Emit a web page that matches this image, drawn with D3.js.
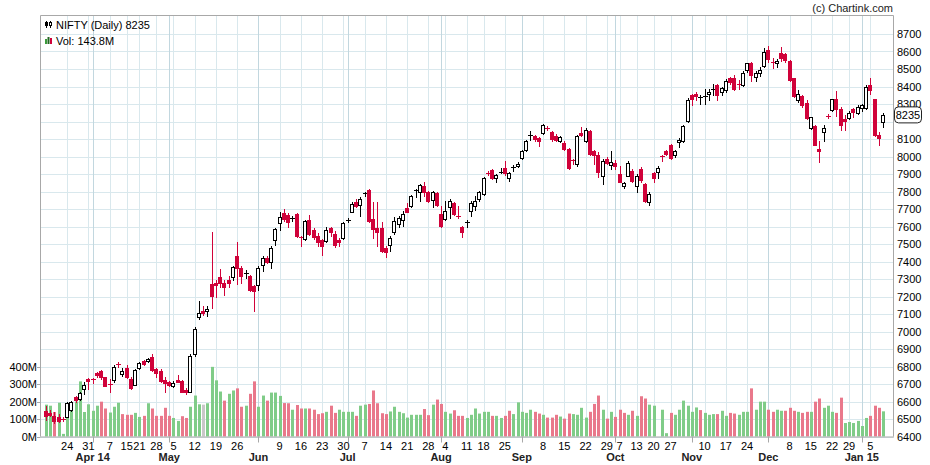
<!DOCTYPE html>
<html><head><meta charset="utf-8">
<script src="https://cdn.jsdelivr.net/npm/d3@7"></script>
<style>body{margin:0;background:#fff}svg text{font-family:"Liberation Sans",Arial,sans-serif}</style>
</head><body><svg id="c" width="930" height="465"></svg>
<script>
const dates=["2014-03-14","2014-03-18","2014-03-19","2014-03-20","2014-03-21",
"2014-03-24","2014-03-25","2014-03-26","2014-03-27","2014-03-28",
"2014-03-31","2014-04-01","2014-04-02","2014-04-03","2014-04-04",
"2014-04-07","2014-04-09","2014-04-10","2014-04-11",
"2014-04-15","2014-04-16","2014-04-17",
"2014-04-21","2014-04-22","2014-04-23","2014-04-25",
"2014-04-28","2014-04-29","2014-04-30","2014-05-02",
"2014-05-05","2014-05-06","2014-05-07","2014-05-08","2014-05-09",
"2014-05-12","2014-05-13","2014-05-14","2014-05-15","2014-05-16",
"2014-05-19","2014-05-20","2014-05-21","2014-05-22","2014-05-23",
"2014-05-26","2014-05-27","2014-05-28","2014-05-29","2014-05-30",
"2014-06-02","2014-06-03","2014-06-04","2014-06-05","2014-06-06",
"2014-06-09","2014-06-10","2014-06-11","2014-06-12","2014-06-13",
"2014-06-16","2014-06-17","2014-06-18","2014-06-19","2014-06-20",
"2014-06-23","2014-06-24","2014-06-25","2014-06-26","2014-06-27",
"2014-06-30","2014-07-01","2014-07-02","2014-07-03","2014-07-04",
"2014-07-07","2014-07-08","2014-07-09","2014-07-10","2014-07-11",
"2014-07-14","2014-07-15","2014-07-16","2014-07-17","2014-07-18",
"2014-07-21","2014-07-22","2014-07-23","2014-07-24","2014-07-25",
"2014-07-28","2014-07-30","2014-07-31","2014-08-01",
"2014-08-04","2014-08-05","2014-08-06","2014-08-07","2014-08-08",
"2014-08-11","2014-08-12","2014-08-13","2014-08-14",
"2014-08-18","2014-08-19","2014-08-20","2014-08-21","2014-08-22",
"2014-08-25","2014-08-26","2014-08-27","2014-08-28",
"2014-09-01","2014-09-02","2014-09-03","2014-09-04","2014-09-05",
"2014-09-08","2014-09-09","2014-09-10","2014-09-11","2014-09-12",
"2014-09-15","2014-09-16","2014-09-17","2014-09-18","2014-09-19",
"2014-09-22","2014-09-23","2014-09-24","2014-09-25","2014-09-26",
"2014-09-29","2014-09-30","2014-10-01",
"2014-10-07","2014-10-08","2014-10-09","2014-10-10",
"2014-10-13","2014-10-14","2014-10-16","2014-10-17",
"2014-10-20","2014-10-21","2014-10-22","2014-10-23",
"2014-10-27","2014-10-28","2014-10-29","2014-10-30","2014-10-31",
"2014-11-03","2014-11-05","2014-11-07",
"2014-11-10","2014-11-11","2014-11-12","2014-11-13","2014-11-14",
"2014-11-17","2014-11-18","2014-11-19","2014-11-20","2014-11-21",
"2014-11-24","2014-11-25","2014-11-26","2014-11-27","2014-11-28",
"2014-12-01","2014-12-02","2014-12-03","2014-12-04","2014-12-05",
"2014-12-08","2014-12-09","2014-12-10","2014-12-11","2014-12-12",
"2014-12-15","2014-12-16","2014-12-17","2014-12-18","2014-12-19",
"2014-12-22","2014-12-23","2014-12-24","2014-12-26",
"2014-12-29","2014-12-30","2014-12-31","2015-01-01","2015-01-02",
"2015-01-05","2015-01-06","2015-01-07","2015-01-08"];

const open=[6543,6535,6520,6514,6500,6514,6549,6625,6615,6672,
6730,6728,6762,6777,6739,6700,6724,6815,6758,6792,
6730,6697,6792,6829,6829,6857,6783,6773,6724,6711,
6686,6724,6720,6668,6657,6870,7082,7115,7118,7273,
7280,7311,7276,7295,7311,7433,7362,7330,7318,7261,
7267,7381,7419,7400,7524,7620,7680,7668,7648,7673,
7540,7528,7639,7582,7547,7520,7515,7591,7560,7520,
7537,7637,7685,7742,7723,7790,7811,7642,7594,7590,
7476,7495,7566,7617,7637,7705,7715,7803,7800,7834,
7800,7753,7792,7671,7643,7710,7734,7660,7595,7625,
7690,7719,7757,7786,7906,7924,7880,7912,7933,7876,
7939,7945,7991,8040,8120,8117,8107,8134,8163,8140,
8120,8088,8078,8044,7980,7958,8136,8086,8144,8030,
8010,7891,7987,7950,7963,7900,7830,7891,7919,7834,
7929,7843,7738,7904,7910,8003,8032,8067,8006,8083,
8088,8202,8354,8358,8338,8343,8358,8380,8410,8366,
8379,8446,8446,8416,8410,8493,8537,8455,8478,8518,
8608,8540,8532,8590,8588,8545,8446,8321,8346,8308,
8163,8173,8044,8140,8232,8264,8331,8273,8212,8220,
8270,8251,8279,8279,8411,8331,8125,8197];

const high=[6577,6550,6540,6526,6514,6596,6602,6632,6655,6710,
6733,6735,6770,6781,6742,6730,6810,6825,6792,6806,
6739,6787,6825,6836,6850,6872,6790,6787,6739,6715,
6720,6749,6724,6678,6872,7023,7175,7147,7147,7566,
7295,7357,7295,7318,7376,7509,7376,7349,7324,7267,
7372,7429,7433,7486,7591,7681,7700,7676,7662,7677,
7543,7635,7667,7591,7563,7528,7597,7597,7575,7537,
7624,7650,7742,7757,7767,7800,7815,7738,7738,7623,
7490,7543,7652,7662,7690,7732,7781,7815,7844,7853,
7805,7805,7796,7719,7748,7757,7742,7715,7604,7638,
7747,7773,7805,7882,7920,7930,7901,7933,7977,7914,
7952,7971,8040,8096,8144,8124,8111,8188,8175,8144,
8130,8117,8086,8048,7987,8121,8169,8163,8149,8040,
8025,7987,7996,8034,7982,7944,7856,7977,7929,7900,
7938,7849,7795,7910,7944,8010,8040,8073,8035,8105,
8182,8335,8360,8369,8354,8388,8385,8417,8417,8398,
8442,8455,8465,8436,8488,8537,8541,8490,8512,8621,
8633,8560,8557,8627,8592,8551,8450,8378,8350,8321,
8226,8178,8091,8182,8240,8331,8373,8283,8239,8258,
8277,8296,8302,8407,8449,8331,8140,8251];

const low=[6495,6515,6476,6482,6487,6510,6543,6598,6610,6644,
6672,6705,6740,6730,6686,6655,6710,6796,6748,6735,
6672,6692,6788,6810,6825,6773,6740,6710,6657,6690,
6682,6710,6652,6644,6653,6860,7070,7095,7090,7133,
7196,7254,7206,7257,7292,7271,7276,7305,7229,7120,
7238,7343,7391,7362,7496,7582,7630,7597,7630,7540,
7486,7520,7553,7528,7486,7439,7509,7543,7484,7490,
7531,7624,7681,7710,7662,7777,7624,7537,7489,7455,
7428,7461,7556,7600,7604,7681,7710,7767,7747,7777,
7738,7709,7715,7600,7637,7647,7665,7647,7541,7600,
7658,7696,7748,7780,7895,7872,7857,7905,7897,7862,
7920,7939,7987,8034,8092,8088,8060,8128,8150,8088,
8086,8082,8040,7929,7958,7945,8117,8082,8006,7958,
7882,7843,7958,7926,7929,7852,7818,7887,7852,7799,
7856,7738,7724,7856,7875,7976,8009,7986,7996,8053,
8082,8200,8297,8321,8302,8302,8321,8350,8321,8350,
8369,8417,8379,8385,8404,8484,8430,8430,8461,8512,
8541,8507,8512,8545,8540,8430,8340,8312,8283,8216,
8159,8063,7968,8091,8218,8258,8231,8150,8150,8212,
8224,8243,8258,8273,8360,8117,8067,8169];

const close=[6518,6525,6488,6491,6495,6590,6596,6606,6648,6697,
6720,6722,6749,6739,6691,6698,6800,6806,6777,6739,
6678,6781,6821,6815,6844,6781,6762,6720,6705,6697,
6705,6714,6657,6653,6860,7014,7108,7108,7130,7204,
7265,7276,7253,7276,7368,7362,7318,7334,7238,7229,
7362,7419,7400,7477,7586,7654,7645,7628,7650,7543,
7534,7629,7559,7540,7509,7490,7582,7566,7495,7510,
7620,7640,7729,7719,7757,7792,7629,7585,7571,7461,
7455,7533,7629,7648,7671,7685,7777,7806,7838,7800,
7748,7800,7723,7604,7686,7748,7671,7652,7570,7628,
7732,7748,7796,7876,7898,7878,7895,7914,7906,7904,
7941,7956,8029,8088,8123,8098,8087,8182,8157,8098,
8096,8111,8044,7933,7975,8117,8121,8149,8015,8008,
7914,7977,7964,7968,7948,7856,7849,7963,7862,7887,
7868,7747,7786,7877,7933,7997,8015,7992,8033,8096,
8174,8325,8327,8345,8340,8345,8370,8387,8354,8393,
8432,8427,8385,8412,8480,8532,8465,8478,8497,8595,
8557,8535,8545,8562,8550,8436,8346,8360,8297,8222,
8225,8067,8029,8163,8226,8327,8270,8178,8205,8251,
8252,8283,8293,8398,8379,8125,8106,8235];

// volume in millions
const volume=[182,176,140,193,15,150,160,200,315,140,
184,147,176,199,160,137,170,193,128,124,
124,135,112,118,190,160,118,118,164,118,
106,89,116,106,170,234,184,182,190,398,
321,257,205,244,263,275,170,176,244,315,
170,234,205,251,251,232,191,190,153,180,
160,160,160,153,128,133,141,176,135,153,
141,141,141,118,176,182,186,263,190,133,
128,143,170,141,133,108,124,124,124,157,
122,182,211,186,141,131,150,118,118,106,
124,160,131,141,141,118,118,106,118,147,
128,195,141,135,153,141,131,124,108,108,
124,114,102,131,128,124,164,108,141,186,
234,153,102,141,112,153,135,124,147,118,
230,217,182,176,0,153,19,135,124,153,
205,176,141,166,151,135,124,128,128,147,
118,135,131,124,141,141,275,153,199,199,
153,141,153,147,147,164,147,141,135,141,
141,199,217,164,176,141,135,222,77,83,
77,89,60,106,118,176,164,143.8];

const priceTicks=[6400,6500,6600,6700,6800,6900,7000,7100,7200,7300,7400,7500,7600,7700,7800,7900,8000,8100,8200,8300,8400,8500,8600,8700];
const volumeTicks=[0,100,200,300,400];
const weekTickDates=["2014-03-24","2014-03-31","2014-04-07","2014-04-15","2014-04-21","2014-04-28","2014-05-05","2014-05-12","2014-05-19","2014-05-26","2014-06-09","2014-06-16","2014-06-23","2014-06-30","2014-07-07","2014-07-14","2014-07-21","2014-07-28","2014-08-04","2014-08-11","2014-08-18","2014-08-25","2014-09-08","2014-09-15","2014-09-22","2014-09-29","2014-10-07","2014-10-13","2014-10-20","2014-10-27","2014-11-10","2014-11-17","2014-11-24","2014-12-08","2014-12-15","2014-12-22","2014-12-29","2015-01-05"];
const weekTickLabels=["24","31","7","15","21","28","5","12","19","26","9","16","23","30","7","14","21","28","4","11","18","25","8","15","22","29","7","13","20","27","10","17","24","8","15","22","29","5"];
const monthTickDates=["2014-04-01","2014-05-02","2014-06-02","2014-07-01","2014-08-01","2014-09-01","2014-10-01","2014-11-03","2014-12-01","2015-01-01"];
const monthTickLabels=["Apr 14","May","Jun","Jul","Aug","Sep","Oct","Nov","Dec","Jan 15"];

const W=930,H=465, L=40, R=893, T=15, B=436.5;
const RED="#d0023a", GREEN="#80cc88", PINK="#e9788b", GRAY="#c8c8c8";
const svg=d3.select("#c");
const x=d3.scalePoint().domain(dates).range([46,883]);
const y=d3.scaleLinear().domain([6400,8700]).range([B,34]);
const yv=d3.scaleLinear().domain([0,400]).range([B,366.5]);
const px=d=>Math.round(x(d));

svg.append("rect").attr("width",W).attr("height",H).attr("fill","#fff");

// horizontal grid
svg.append("g").selectAll("line").data(priceTicks).join("line")
 .attr("x1",L).attr("x2",R).attr("y1",d=>Math.round(y(d))+0.5).attr("y2",d=>Math.round(y(d))+0.5)
 .attr("stroke","#d9e8ed").attr("stroke-width",1);
// vertical grid
svg.append("g").selectAll("line").data(weekTickDates).join("line")
 .attr("x1",d=>px(d)+0.5).attr("x2",d=>px(d)+0.5).attr("y1",T).attr("y2",B)
 .attr("stroke","#d9e8ed");
svg.append("g").selectAll("line").data(monthTickDates).join("line")
 .attr("x1",d=>px(d)+0.5).attr("x2",d=>px(d)+0.5).attr("y1",T).attr("y2",B)
 .attr("stroke","#c2d7df");

// volume bars
const idx=d3.range(dates.length);
svg.append("g").selectAll("rect").data(idx).join("rect")
 .attr("x",i=>px(dates[i])-1).attr("width",3)
 .attr("y",i=>yv(volume[i])).attr("height",i=>B-yv(volume[i]))
 .attr("fill",i=>{ if(i===0) return GREEN; const d=close[i]-close[i-1]; return d>0?GREEN:(d<0?PINK:GRAY);});

// candles
const g=svg.append("g");
idx.forEach(i=>{
  const cx=px(dates[i]);
  const up=close[i]>=open[i];
  const col=up?"#000":RED;
  const yh=Math.round(y(high[i])), yl=Math.round(y(low[i]));
  const yo=Math.round(y(open[i])), yc=Math.round(y(close[i]));
  g.append("line").attr("x1",cx+0.5).attr("x2",cx+0.5).attr("y1",yh).attr("y2",yl+1).attr("stroke",col);
  const top=Math.min(yo,yc), h=Math.abs(yo-yc);
  if(h<2){
    g.append("rect").attr("x",cx-2).attr("width",5).attr("y",top).attr("height",1).attr("fill",col);
  } else if(up){
    g.append("rect").attr("x",cx-1.5).attr("width",3).attr("y",top+0.5).attr("height",h).attr("fill","#fff").attr("stroke","#000");
  } else {
    g.append("rect").attr("x",cx-2).attr("width",4).attr("y",top).attr("height",h+1).attr("fill",RED);
  }
});

// frame
svg.append("path").attr("d",`M${L+0.5},${B}V${T+0.5}H${R+0.5}V${B}`).attr("fill","none").attr("stroke","#a8a8a8");
svg.append("line").attr("x1",L).attr("x2",R+1).attr("y1",B+0.5).attr("y2",B+0.5).attr("stroke","#a8a8a8");
// month ticks below axis
svg.append("g").selectAll("line").data(monthTickDates).join("line")
 .attr("x1",d=>px(d)+0.5).attr("x2",d=>px(d)+0.5).attr("y1",B).attr("y2",B+6).attr("stroke","#a8a8a8");

// x labels
svg.append("g").selectAll("text").data(weekTickDates).join("text")
 .attr("x",d=>x(d)).attr("y",450).attr("text-anchor","middle").attr("font-size","11px").attr("fill","#000")
 .text((d,i)=>weekTickLabels[i]);
svg.append("g").selectAll("text").data(monthTickDates).join("text")
 .attr("x",d=>x(d)).attr("y",461).attr("text-anchor","middle").attr("font-size","11px").attr("font-weight","bold").attr("fill","#222")
 .text((d,i)=>monthTickLabels[i]);

const last=close[close.length-1];
const ly=y(last);

// price labels (right) - the one hidden behind the last-price box is not shown, as in the reference
svg.append("g").selectAll("text").data(priceTicks.filter(p=>Math.abs(y(p)-ly)>11)).join("text")
 .attr("x",897).attr("y",d=>y(d)+4).attr("font-size","11px").attr("fill","#000").text(d=>d);
// volume labels (left)
svg.append("g").selectAll("text").data(volumeTicks).join("text")
 .attr("x",37).attr("y",d=>yv(d)+4).attr("text-anchor","end").attr("font-size","11px").attr("fill","#000").text(d=>d+"M");
svg.append("g").selectAll("line").data(volumeTicks).join("line")
 .attr("x1",37).attr("x2",L).attr("y1",d=>Math.round(yv(d))+0.5).attr("y2",d=>Math.round(yv(d))+0.5).attr("stroke","#a8a8a8");

// last price box
svg.append("rect").attr("x",894.5).attr("y",ly-8.5).attr("width",27).attr("height",16).attr("rx",4)
 .attr("fill","#fff").attr("stroke","#222");
svg.append("text").attr("x",908).attr("y",ly+4).attr("text-anchor","middle").attr("font-size","11px").text(last);

// legend
const lg=svg.append("g");
lg.append("line").attr("x1",46.5).attr("x2",46.5).attr("y1",21).attr("y2",28).attr("stroke","#000");
lg.append("rect").attr("x",45).attr("y",22).attr("width",3).attr("height",4).attr("fill","#000");
lg.append("line").attr("x1",50.5).attr("x2",50.5).attr("y1",21).attr("y2",28).attr("stroke","#000");
lg.append("rect").attr("x",49.5).attr("y",22.5).attr("width",2).attr("height",3).attr("fill","#fff").attr("stroke","#000");
lg.append("text").attr("x",56).attr("y",29).attr("font-size","11px").text("NIFTY (Daily) "+last);
lg.append("rect").attr("x",45).attr("y",39).attr("width",2).attr("height",5).attr("fill","#3a9a3a");
lg.append("rect").attr("x",47.5).attr("y",37).attr("width",2).attr("height",7).attr("fill","#226622");
lg.append("rect").attr("x",50).attr("y",38).attr("width",2).attr("height",6).attr("fill","#d0023a");
lg.append("text").attr("x",56).attr("y",44.5).attr("font-size","11px").text("Vol: "+volume[volume.length-1]+"M");

svg.append("text").attr("x",893).attr("y",12).attr("text-anchor","end").attr("font-size","11px").attr("fill","#222").text("(c) Chartink.com");
</script></body></html>
